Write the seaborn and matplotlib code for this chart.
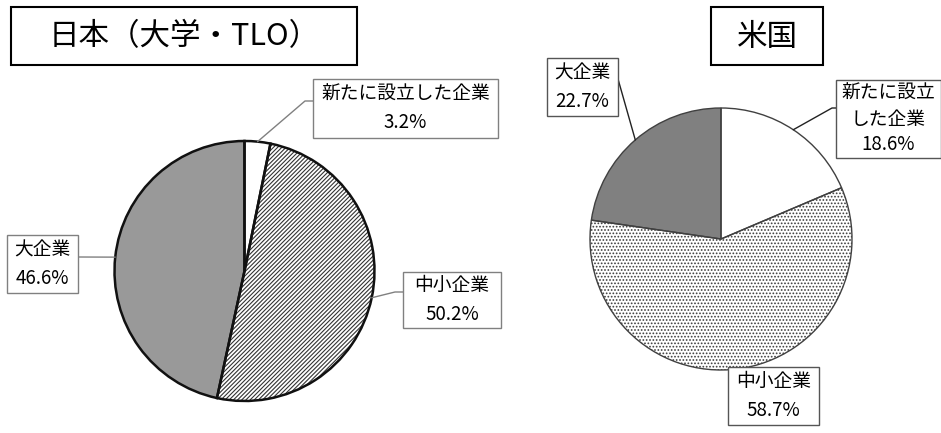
import matplotlib
matplotlib.use("Agg")
import matplotlib.pyplot as plt
from matplotlib.patches import Rectangle
import numpy as np
import seaborn as sns

sns.set_theme(style="white")
plt.rcParams['font.family'] = ['Noto Sans CJK JP', 'DejaVu Sans']
plt.rcParams['hatch.linewidth'] = 0.8

# ---- data ----
jp_title = "日本（大学・TLO）"
us_title = "米国"
jp_categories = ["新たに設立した企業", "中小企業", "大企業"]
jp_values = [3.2, 50.2, 46.6]
us_categories = ["新たに設立\nした企業", "中小企業", "大企業"]
us_values = [18.6, 58.7, 22.7]

H = 433.0
def Y(ypix):
    return H - ypix

fig = plt.figure(figsize=(9.41, 4.33), dpi=100)
ax = fig.add_axes([0, 0, 1, 1])


def draw_pie(values, center, radius, colors, hatches, hatch_color, edge_color, lw):
    # fill + hatch layer
    wedges, _ = ax.pie(values, colors=colors, startangle=90, counterclock=False,
                       center=center, radius=radius,
                       wedgeprops=dict(linewidth=0, edgecolor=hatch_color))
    for w, h in zip(wedges, hatches):
        if h:
            w.set_hatch(h)
    # outline layer
    ax.pie(values, colors=['none'] * len(values), startangle=90, counterclock=False,
           center=center, radius=radius,
           wedgeprops=dict(linewidth=lw, edgecolor=edge_color, fill=False))
    return wedges


def mid_point(w):
    t = np.deg2rad((w.theta1 + w.theta2) / 2.0)
    cx, cy = w.center
    return cx + w.r * np.cos(t), cy + w.r * np.sin(t)


def label_box(x0, y0, x1, y1, text, fs=13.5, ls=1.45, ec='#808080'):
    ax.add_patch(Rectangle((x0, Y(y1)), x1 - x0, y1 - y0, facecolor='white',
                           edgecolor=ec, linewidth=1.0, zorder=5))
    ax.text((x0 + x1) / 2, Y((y0 + y1) / 2), text, ha='center', va='center',
            fontsize=fs, linespacing=ls, color='black', zorder=6)


def leader(w, pts, color):
    px, py = mid_point(w)
    xs = [px] + [p[0] for p in pts]
    ys = [py] + [Y(p[1]) for p in pts]
    ax.plot(xs, ys, color=color, linewidth=1.0, zorder=4)


# ---- Japan pie ----
jp_w = draw_pie(jp_values, (244.5, Y(271)), 130,
                ['white', 'white', '#999999'], [None, '////////', None],
                '#333333', '#111111', 1.8)
# ---- US pie ----
us_w = draw_pie(us_values, (721, Y(239)), 131,
                ['white', 'white', '#808080'], [None, '.....', None],
                '#3c3c3c', '#404040', 1.0)

# title boxes
for (x0, y0, x1, y1, t) in [(11, 7, 357, 65, jp_title), (711, 7, 823, 65, us_title)]:
    ax.add_patch(Rectangle((x0, Y(y1)), x1 - x0, y1 - y0, facecolor='white',
                           edgecolor='black', linewidth=1.5, zorder=5))
    ax.text((x0 + x1) / 2, Y((y0 + y1) / 2) - 1, t, ha='center', va='center',
            fontsize=22, color='black', zorder=6)

# Japan labels
leader(jp_w[0], [(305, 101), (313, 101)], '#808080')
label_box(313, 79, 498, 138, f"{jp_categories[0]}\n{jp_values[0]:.1f}%")
leader(jp_w[1], [(395, 292), (403, 292)], '#808080')
label_box(403, 272, 501, 328, f"{jp_categories[1]}\n{jp_values[1]:.1f}%")
leader(jp_w[2], [(78, 257)], '#808080')
label_box(7, 235, 78, 293, f"{jp_categories[2]}\n{jp_values[2]:.1f}%")

# US labels
leader(us_w[0], [(832, 108), (836, 108)], '#222222')
label_box(836, 80, 941, 158, f"{us_categories[0]}\n{us_values[0]:.1f}%", ls=1.3, ec='#555555')
label_box(728, 367, 819, 425, f"{us_categories[1]}\n{us_values[1]:.1f}%", ec='#555555')
leader(us_w[2], [(618, 79)], '#222222')
label_box(547, 58, 618, 116, f"{us_categories[2]}\n{us_values[2]:.1f}%", ec='#555555')

ax.set_xlim(0, 941)
ax.set_ylim(0, 433)
ax.set_aspect('equal')
ax.axis('off')

fig.savefig("out.png", dpi=100, facecolor='white')
